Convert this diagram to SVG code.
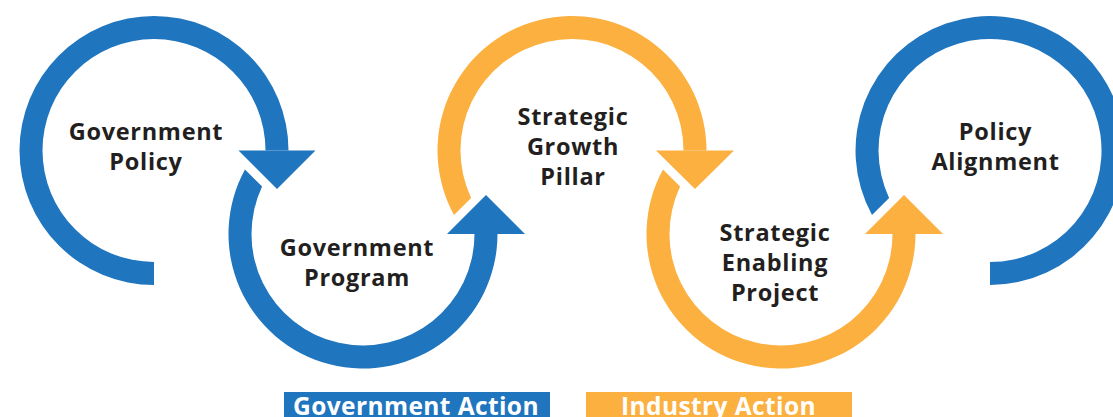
<svg xmlns="http://www.w3.org/2000/svg" width="1113" height="417" viewBox="0 0 1113 417">
  <style>
    .blue { fill: #1F75BE; }
    .orange { fill: #FBB040; }
    .lbl { font-family: "Open Sans", "Liberation Sans", sans-serif; font-weight: 700; font-size: 23.5px; letter-spacing: 0.7px; fill: #231F20; text-anchor: middle; }
    .leg { font-family: "Open Sans", "Liberation Sans", sans-serif; font-weight: 700; font-size: 24.5px; letter-spacing: 0.4px; fill: #FFFFFF; text-anchor: middle; }
  </style>
  <rect width="1113" height="417" fill="#FFFFFF"/>

  <g id="connectors">
    <polygon class="blue" points="238.5,150.5 315.5,150.5 277,189"/>
    <polygon class="blue" points="447,234 525,234 486,195"/>
    <polygon class="orange" points="656,150.5 734,150.5 695,189"/>
    <polygon class="orange" points="865,234 943,234 904,195"/>
  </g>

  <g id="node-government-policy">
    <path class="blue" d="M 154,285 A 134.5 134.5 0 1 1 288.5,150.5 L 265.5,150.5 A 111.5 111.5 0 1 0 154,262 Z"/>
    <text class="lbl" x="146" y="139.5">Government</text>
    <text class="lbl" x="146" y="169.5">Policy</text>
  </g>

  <g id="node-government-program">
    <path class="blue" d="M 244.98,169.48 A 134.5 134.5 0 1 0 497.5,234 L 474.5,234 A 111.5 111.5 0 1 1 262.08,186.58 Z"/>
    <text class="lbl" x="357" y="256">Government</text>
    <text class="lbl" x="357" y="286">Program</text>
  </g>

  <g id="node-strategic-growth-pillar">
    <path class="orange" d="M 454,215 A 134.5 134.5 0 1 1 706.5,150.5 L 683.5,150.5 A 111.5 111.5 0 1 0 471.1,197.9 Z"/>
    <text class="lbl" x="573" y="124.5">Strategic</text>
    <text class="lbl" x="573" y="154.5">Growth</text>
    <text class="lbl" x="573" y="184.5">Pillar</text>
  </g>

  <g id="node-strategic-enabling-project">
    <path class="orange" d="M 662.98,169.48 A 134.5 134.5 0 1 0 915.5,234 L 892.5,234 A 111.5 111.5 0 1 1 680.08,186.58 Z"/>
    <text class="lbl" x="775" y="240.5">Strategic</text>
    <text class="lbl" x="775" y="270.5">Enabling</text>
    <text class="lbl" x="775" y="300.5">Project</text>
  </g>

  <g id="node-policy-alignment">
    <path class="blue" d="M 872,215 A 134.5 134.5 0 1 1 990,285 L 990,262 A 111.5 111.5 0 1 0 889.1,197.9 Z"/>
    <text class="lbl" x="995.5" y="139.5">Policy</text>
    <text class="lbl" x="995.5" y="169.5">Alignment</text>
  </g>

  <g id="legend-government-action">
    <rect class="blue" x="284" y="392" width="266" height="25"/>
    <text class="leg" x="416" y="414.5">Government Action</text>
  </g>

  <g id="legend-industry-action">
    <rect class="orange" x="586" y="392" width="266" height="25"/>
    <text class="leg" x="718.5" y="414.5">Industry Action</text>
  </g>
</svg>
